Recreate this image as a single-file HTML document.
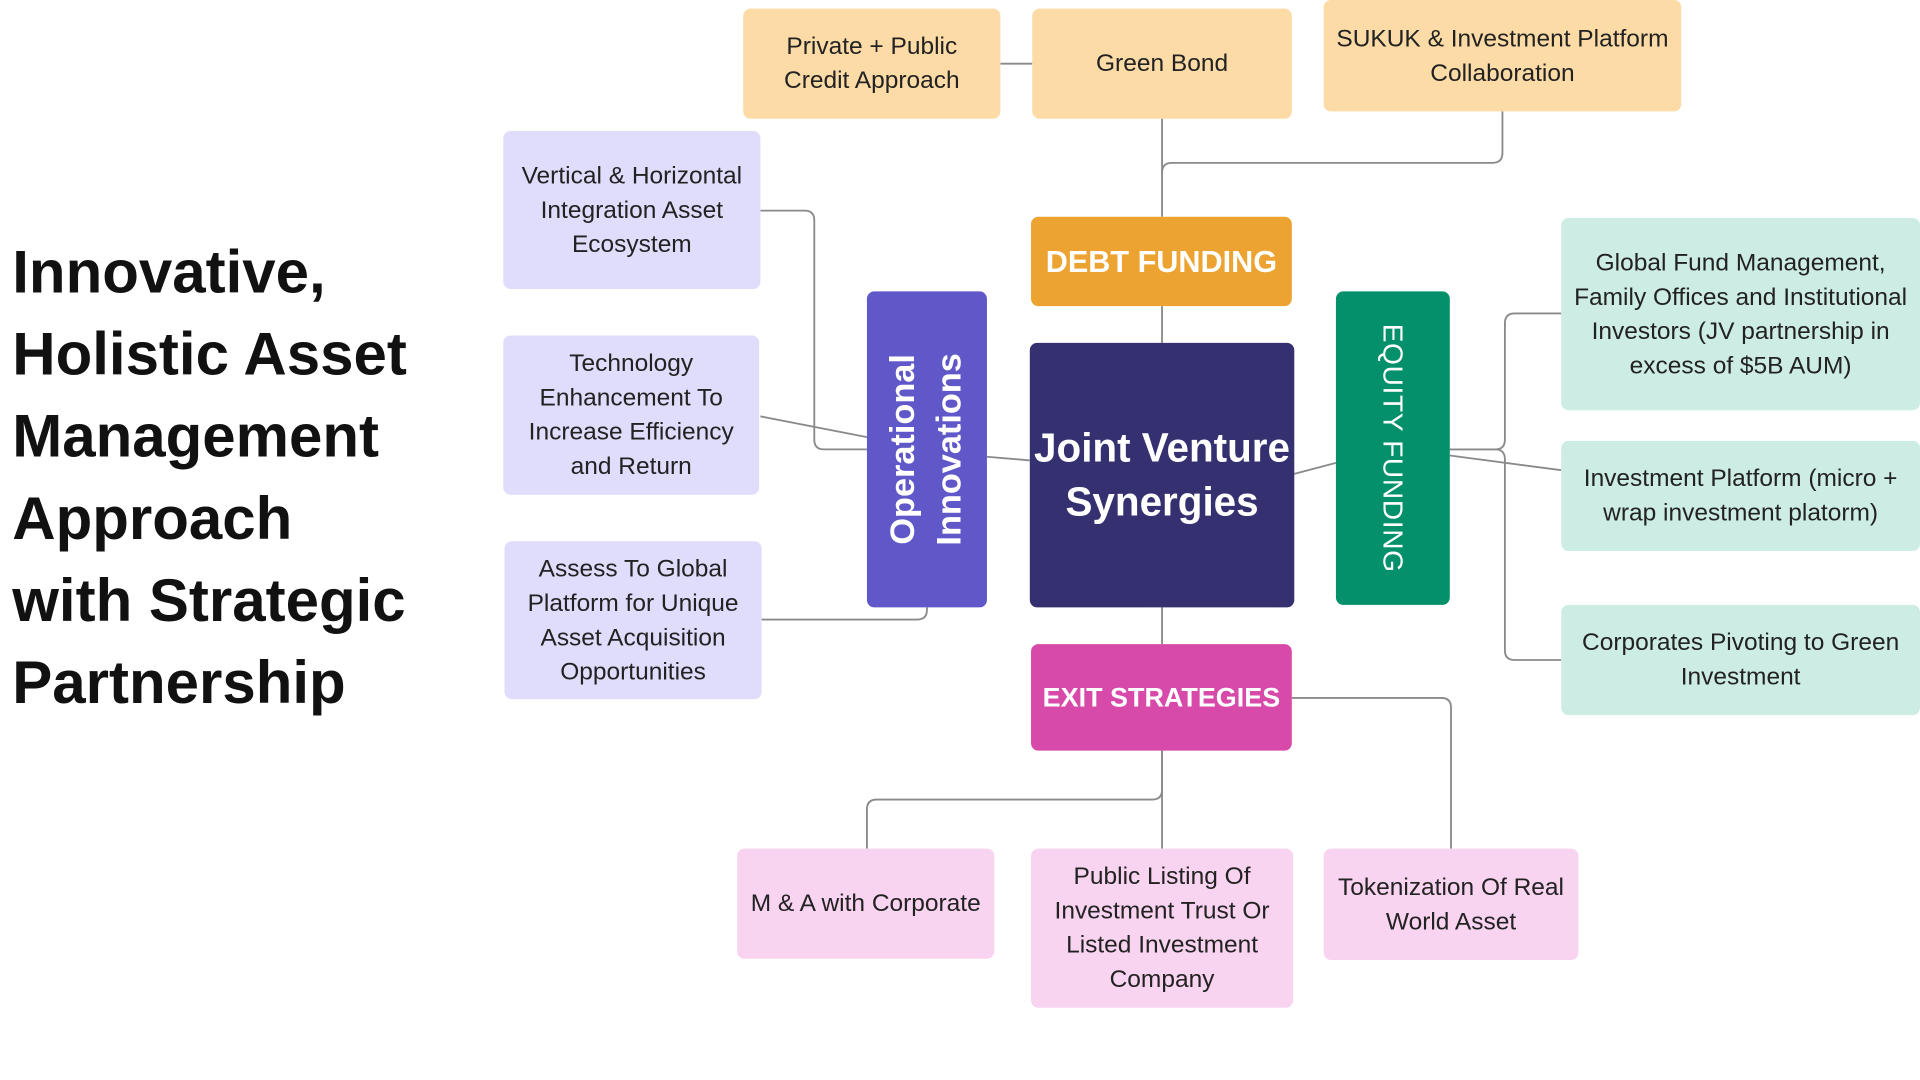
<!DOCTYPE html>
<html><head><meta charset="utf-8"><style>
html,body{margin:0;padding:0;background:#fff;width:1920px;height:1080px;overflow:hidden}
#w{position:absolute;left:0;top:0;width:1568px;height:882px;transform:scale(1.22449);transform-origin:0 0;font-family:"Liberation Sans",sans-serif}
.b{position:absolute;border-radius:6px;display:flex;align-items:center;justify-content:center;text-align:center;font-size:20px;line-height:28px;color:#222;box-sizing:border-box;padding:0 6px}
.p{background:#fddba6}.l{background:#e0dcfb}.g{background:#cdede4}.k{background:#f9d4f0}
.t{position:absolute;left:10px;top:190px;font-weight:bold;font-size:49px;line-height:67px;color:#111}
svg{position:absolute;left:0;top:0}
</style></head><body><div id="w">
<svg width="1568" height="882" fill="none" stroke="#8a8a8a" stroke-width="1.5">
<path d="M817 52H843"/>
<path d="M949 97V177"/>
<path d="M1227 91V125Q1227 133 1219 133H957Q949 133 949 141"/>
<path d="M949 250V280M949 496V526M949 613V693"/>
<path d="M949 613V645Q949 653 941 653H716Q708 653 708 661V693"/>
<path d="M1055 570H1177Q1185 570 1185 578V693"/>
<path d="M841 376L806 373"/>
<path d="M708 367H673Q665 367 665 359V180Q665 172 657 172H621"/>
<path d="M621 340L708 357"/>
<path d="M622 506H749Q757 506 757 498V496"/>
<path d="M1057 387L1091 378"/>
<path d="M1184 367H1221Q1229 367 1229 359V264Q1229 256 1237 256H1275"/>
<path d="M1184 367H1221Q1229 367 1229 375V531Q1229 539 1237 539H1275"/>
<path d="M1184 372L1275 384"/>
</svg>
<div class="t">Innovative,<br>Holistic Asset<br>Management<br>Approach<br>with Strategic<br>Partnership</div>
<div class="b p" style="left:607px;top:7px;width:210px;height:90px">Private + Public Credit Approach</div>
<div class="b p" style="left:843px;top:7px;width:212px;height:90px">Green Bond</div>
<div class="b p" style="left:1081px;top:0;width:292px;height:91px">SUKUK &amp; Investment Platform Collaboration</div>
<div class="b l" style="left:411px;top:107px;width:210px;height:129px">Vertical &amp; Horizontal Integration Asset Ecosystem</div>
<div class="b l" style="left:411px;top:274px;width:209px;height:130px">Technology Enhancement To Increase Efficiency and Return</div>
<div class="b l" style="left:412px;top:442px;width:210px;height:129px">Assess To Global Platform for Unique Asset Acquisition Opportunities</div>
<div class="b" style="left:708px;top:238px;width:98px;height:258px;background:#6058c8"><div style="transform:rotate(-90deg);white-space:nowrap;color:#fff;font-weight:bold;font-size:28px;line-height:38px">Operational<br>Innovations</div></div>
<div class="b" style="left:842px;top:177px;width:213px;height:73px;background:#eca331;color:#fff;font-weight:bold;font-size:25px">DEBT FUNDING</div>
<div class="b" style="left:841px;top:280px;width:216px;height:216px;background:#35306f;color:#fff;font-weight:bold;font-size:33px;line-height:44px;padding:0">Joint Venture Synergies</div>
<div class="b" style="left:1091px;top:238px;width:93px;height:256px;background:#03906a"><div style="transform:rotate(90deg);white-space:nowrap;color:#fff;font-size:23px;letter-spacing:0.5px">EQUITY FUNDING</div></div>
<div class="b g" style="left:1275px;top:178px;width:293px;height:157px">Global Fund Management, Family Offices and Institutional Investors (JV partnership in excess of $5B AUM)</div>
<div class="b g" style="left:1275px;top:360px;width:293px;height:90px">Investment Platform (micro + wrap investment platorm)</div>
<div class="b g" style="left:1275px;top:494px;width:293px;height:90px">Corporates Pivoting to Green Investment</div>
<div class="b" style="left:842px;top:526px;width:213px;height:87px;background:#d84aa9;color:#fff;font-weight:bold;font-size:22px;padding:0">EXIT STRATEGIES</div>
<div class="b k" style="left:602px;top:693px;width:210px;height:90px">M &amp; A with Corporate</div>
<div class="b k" style="left:842px;top:693px;width:214px;height:130px">Public Listing Of Investment Trust Or Listed Investment Company</div>
<div class="b k" style="left:1081px;top:693px;width:208px;height:91px">Tokenization Of Real World Asset</div>
</div></body></html>
